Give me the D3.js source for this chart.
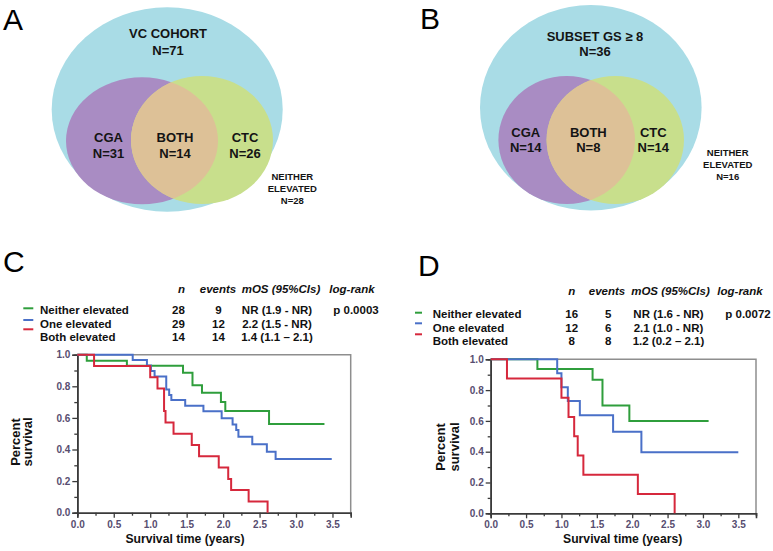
<!DOCTYPE html>
<html><head><meta charset="utf-8">
<script src="https://cdn.jsdelivr.net/npm/d3@7"></script>
<style>body{margin:0;background:#fff}svg{display:block}text{font-family:"Liberation Sans",Arial,sans-serif}</style>
</head><body><svg id="c" width="773" height="551"></svg>
<script>
// ---------- data ----------
const groups = ["Neither elevated", "One elevated", "Both elevated"];
const groupColors = ["#2f9e3c", "#4a70c8", "#d6283c"];
const tableHeaders = ["n", "events", "mOS (95%CIs)", "log-rank"];

const cN = [28, 29, 14];
const cEvents = [9, 12, 14];
const cMOS = ["NR (1.9 - NR)", "2.2 (1.5 - NR)", "1.4 (1.1 – 2.1)"];
const cP = "p 0.0003";

const dN = [16, 12, 8];
const dEvents = [5, 6, 8];
const dMOS = ["NR (1.6 - NR)", "2.1 (1.0 - NR)", "1.2 (0.2 – 2.1)"];
const dP = "p 0.0072";

// Kaplan-Meier step data (time in years, survival fraction)
const cGreenT = [0, 0.13, 0.68, 1.45, 1.58, 1.71, 1.97, 2.03, 2.63, 3.39];
const cGreenS = [1, 0.962, 0.93, 0.886, 0.806, 0.759, 0.70, 0.644, 0.561, 0.561];
const cBlueT = [0, 0.76, 0.955, 1.01, 1.06, 1.22, 1.26, 1.29, 1.48, 1.73, 1.98, 2.13, 2.18, 2.21, 2.40, 2.60, 2.72, 3.49];
const cBlueS = [1, 0.966, 0.931, 0.897, 0.862, 0.78, 0.745, 0.713, 0.677, 0.642, 0.597, 0.559, 0.523, 0.481, 0.433, 0.386, 0.34, 0.34];
const cRedT = [0, 0.23, 1.0, 1.10, 1.19, 1.21, 1.32, 1.57, 1.67, 1.94, 2.07, 2.11, 2.35, 2.61];
const cRedS = [1, 0.929, 0.857, 0.786, 0.643, 0.571, 0.5, 0.429, 0.357, 0.286, 0.214, 0.143, 0.071, 0];

const dGreenT = [0, 0.66, 1.44, 1.58, 1.96, 3.08];
const dGreenS = [1, 0.9375, 0.867, 0.70, 0.60, 0.60];
const dBlueT = [0, 0.94, 1.0, 1.09, 1.26, 1.73, 2.13, 3.50];
const dBlueS = [1, 0.909, 0.818, 0.73, 0.636, 0.53, 0.396, 0.396];
const dRedT = [0, 0.23, 1.0, 1.10, 1.18, 1.23, 1.31, 2.08, 2.60];
const dRedS = [1, 0.875, 0.75, 0.625, 0.5, 0.375, 0.25, 0.125, 0];

const yTicks = [0, 0.2, 0.4, 0.6, 0.8, 1.0];
const yMinorTicks = [0.1, 0.3, 0.5, 0.7, 0.9];
const xTicks = [0, 0.5, 1.0, 1.5, 2.0, 2.5, 3.0, 3.5];
const xMinorTicks = [0.25, 0.75, 1.25, 1.75, 2.25, 2.75, 3.25];

// Venn data
const vennALabels = ["VC COHORT", "CGA", "BOTH", "CTC"];
const vennACounts = [71, 31, 14, 26];
const vennANeither = 28;
const vennBLabels = ["SUBSET GS ≥ 8", "CGA", "BOTH", "CTC"];
const vennBCounts = [36, 14, 8, 14];
const vennBNeither = 16;

// ---------- drawing ----------
const svg = d3.select("#c");
const colBlue = "#a9dce6", colPurple = "#a98cc3", colGreen = "#c8df8c", colTan = "#ddc197";

function panelLetter(x, y, s) {
  svg.append("text").attr("x", x).attr("y", y).attr("font-size", 30)
    .style("font-family", "'Liberation Sans',Arial,sans-serif").attr("fill", "#000").text(s);
}

function venn(cfg, id) {
  const g = svg.append("g");
  g.append("ellipse").attr("cx", cfg.outer[0]).attr("cy", cfg.outer[1]).attr("rx", cfg.outer[2]).attr("ry", cfg.outer[3]).attr("fill", colBlue);
  g.append("ellipse").attr("cx", cfg.cga[0]).attr("cy", cfg.cga[1]).attr("rx", cfg.cga[2]).attr("ry", cfg.cga[3]).attr("fill", colPurple);
  g.append("ellipse").attr("cx", cfg.ctc[0]).attr("cy", cfg.ctc[1]).attr("rx", cfg.ctc[2]).attr("ry", cfg.ctc[3]).attr("fill", colGreen);
  g.append("clipPath").attr("id", id).append("ellipse")
    .attr("cx", cfg.cga[0]).attr("cy", cfg.cga[1]).attr("rx", cfg.cga[2]).attr("ry", cfg.cga[3]);
  g.append("ellipse").attr("clip-path", `url(#${id})`)
    .attr("cx", cfg.ctc[0]).attr("cy", cfg.ctc[1]).attr("rx", cfg.ctc[2]).attr("ry", cfg.ctc[3]).attr("fill", colTan);
  const T = (x, y, s, size) => g.append("text").attr("x", x).attr("y", y).attr("text-anchor", "middle")
    .attr("font-weight", "bold").attr("font-size", size).attr("fill", "#141414").text(s);
  cfg.labels.forEach((lab, i) => {
    const p = cfg.textPos[i];
    T(p[0], p[1], lab, 13);
    T(p[0], p[1] + cfg.lineGap, "N=" + cfg.counts[i], 13);
  });
  ["NEITHER", "ELEVATED", "N=" + cfg.neither].forEach((s, i) =>
    T(cfg.neitherPos[0], cfg.neitherPos[1] + i * 11.8, s, 9.5));
  panelLetter(cfg.letter[0], cfg.letter[1], cfg.letter[2]);
}

venn({
  outer: [167.2, 109.5, 115.5, 102.2],
  cga: [142, 140.8, 76, 63.5],
  ctc: [202, 140, 71, 64],
  labels: vennALabels, counts: vennACounts, neither: vennANeither,
  textPos: [[168, 38.3], [108.5, 141.5], [175, 141.5], [245, 141.5]],
  lineGap: 16.2,
  neitherPos: [292.3, 180],
  letter: [3, 30, "A"]
}, "clipA");

venn({
  outer: [590.8, 107.8, 110.8, 102.8],
  cga: [566.7, 140, 68.3, 64],
  ctc: [615.3, 140, 68.7, 64],
  labels: vennBLabels, counts: vennBCounts, neither: vennBNeither,
  textPos: [[595, 40.5], [525.7, 136.7], [588.3, 136.7], [653.3, 136.7]],
  lineGap: 15.5,
  neitherPos: [727.7, 156],
  letter: [420, 29.3, "B"]
}, "clipB");

function kmPanel(cfg) {
  const x = d3.scaleLinear().domain([0, 3.75]).range([cfg.x0, cfg.x1]);
  const y = d3.scaleLinear().domain([0, 1]).range([cfg.y0, cfg.y1]);
  const g = svg.append("g");

  panelLetter(cfg.letter[0], cfg.letter[1], cfg.letter[2]);

  // table
  const tf = (x, y, s, anchor, italic) => g.append("text").attr("x", x).attr("y", y)
    .attr("text-anchor", anchor).attr("font-weight", "bold").attr("font-size", 11.5)
    .attr("font-style", italic ? "italic" : "normal").attr("fill", "#111").text(s);
  tableHeaders.forEach((h, i) => tf(cfg.headCols[i], cfg.headY, h, "middle", true));
  groups.forEach((gname, i) => {
    const yy = cfg.rowY[i];
    tf(cfg.labelX, yy, gname, "start");
    tf(cfg.cols[0], yy, cfg.n[i], "middle");
    tf(cfg.cols[1], yy, cfg.ev[i], "middle");
    tf(cfg.cols[2], yy, cfg.mos[i], "middle");
    g.append("line").attr("x1", cfg.legX[0]).attr("x2", cfg.legX[1])
      .attr("y1", cfg.legY[i]).attr("y2", cfg.legY[i])
      .attr("stroke", groupColors[i]).attr("stroke-width", 2);
  });
  tf(cfg.pX, cfg.rowY[0], cfg.p, "middle");

  // frame top/right
  g.append("path").attr("d", `M${x(0)},${y(1)}H${x(3.75)}V${y(0)}`)
    .attr("fill", "none").attr("stroke", "#8e8e8e").attr("stroke-width", 1.5);

  const styleAxis = sel => {
    sel.select(".domain").attr("stroke", "#3a3a3a").attr("stroke-width", 1.6);
    sel.selectAll(".tick line").attr("stroke", "#3a3a3a").attr("stroke-width", 1.3);
    sel.selectAll(".tick text").attr("font-size", 10).attr("font-weight", "bold")
      .attr("fill", "#574d70").style("font-family", "'Liberation Sans',Arial,sans-serif");
  };
  g.append("g").attr("transform", `translate(${x(0)},0)`)
    .call(d3.axisLeft(y).tickValues(yMinorTicks).tickSize(3).tickFormat(""))
    .call(styleAxis);
  g.append("g").attr("transform", `translate(${x(0)},0)`)
    .call(d3.axisLeft(y).tickValues(yTicks).tickSize(5).tickPadding(2).tickFormat(d3.format(".1f")))
    .call(styleAxis);
  g.append("g").attr("transform", `translate(0,${y(0)})`)
    .call(d3.axisBottom(x).tickValues(xMinorTicks).tickSize(3).tickFormat(""))
    .call(styleAxis);
  g.append("g").attr("transform", `translate(0,${y(0)})`)
    .call(d3.axisBottom(x).tickValues(xTicks).tickSize(5).tickPadding(3).tickFormat(d3.format(".1f")))
    .call(styleAxis);

  // curves
  const line = d3.line().x(d => x(d[0])).y(d => y(d[1])).curve(d3.curveStepAfter);
  cfg.series.forEach((s, i) => {
    const pts = s.t.map((t, k) => [t, s.s[k]]);
    g.append("path").datum(pts).attr("d", line).attr("fill", "none")
      .attr("stroke", groupColors[i]).attr("stroke-width", 2);
  });

  // axis titles
  g.append("text").attr("x", (x(0) + x(3.75)) / 2 + cfg.xTitleShift).attr("y", cfg.xTitleY).attr("text-anchor", "middle")
    .attr("font-weight", "bold").attr("font-size", 12.2).attr("fill", "#111").text("Survival time (years)");
  ["Percent", "survival"].forEach((s, i) =>
    g.append("text").attr("transform", `translate(${cfg.yTitleX[i]},${cfg.yTitleY}) rotate(-90)`)
      .attr("text-anchor", "middle").attr("font-weight", "bold").attr("font-size", 13).attr("fill", "#111").text(s));
}

kmPanel({
  x0: 77.3, x1: 350.7, y0: 512.7, y1: 354.7,
  letter: [3, 271.7, "C"],
  headCols: [181.5, 218, 281, 352], cols: [178.5, 218.5, 277, 352], headY: 293.3,
  rowY: [314.3, 327.7, 341], labelX: 40, pX: 356,
  legX: [23.3, 33.3], legY: [308.3, 320, 329.3],
  n: cN, ev: cEvents, mos: cMOS, p: cP,
  series: [{t: cGreenT, s: cGreenS}, {t: cBlueT, s: cBlueS}, {t: cRedT, s: cRedS}],
  xTitleY: 543, xTitleShift: -29, yTitleX: [20, 31.7], yTitleY: 442
});

kmPanel({
  x0: 490.7, x1: 756, y0: 513.3, y1: 359.3,
  letter: [418, 276, "D"],
  headCols: [571.7, 607, 670.5, 740], cols: [571.7, 608.3, 668.5, 740], headY: 295,
  rowY: [318.3, 331.7, 345], labelX: 432.7, pX: 748,
  legX: [415, 422], legY: [312.7, 323.3, 334.3],
  n: dN, ev: dEvents, mos: dMOS, p: dP,
  series: [{t: dGreenT, s: dGreenS}, {t: dBlueT, s: dBlueS}, {t: dRedT, s: dRedS}],
  xTitleY: 543.3, xTitleShift: -0.7, yTitleX: [445, 459], yTitleY: 447
});
</script></body></html>
